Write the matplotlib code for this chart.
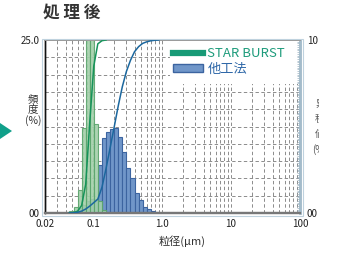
import numpy as np
import matplotlib
matplotlib.use("Agg")
import matplotlib.pyplot as plt
from matplotlib.lines import Line2D
from matplotlib.patches import Patch, Rectangle, Polygon
from matplotlib.ticker import FixedLocator, MultipleLocator, NullFormatter

plt.rcParams['font.family'] = ['Noto Sans CJK JP', 'DejaVu Sans']

# bin centres (um)
sizes = [0.0484, 0.0555, 0.0635, 0.0728, 0.0834, 0.0955, 0.109, 0.125,
         0.144, 0.164, 0.188, 0.216, 0.247, 0.283, 0.324, 0.372, 0.426,
         0.488, 0.558, 0.640, 0.733, 0.839]
# frequency (%) per bin
star_burst = [0.25, 0.8, 3.3, 12.3, 36.0, 32.35, 12.8, 1.8, 0.4,
              0, 0, 0, 0, 0, 0, 0, 0, 0, 0, 0, 0, 0]
other = [0.1, 0.3, 0.7, 1.2, 1.7, 2.0, 2.0, 6.9, 10.8, 11.7, 12.2, 12.3,
         11.0, 8.8, 6.5, 5.0, 2.9, 1.9, 0.9, 0.6, 0.3, 0.15]

xticks = [0.02, 0.1, 1.0, 10, 100]
xticklabels = ["0.02", "0.1", "1.0", "10", "100"]

W, H = 354, 257
fig = plt.figure(figsize=(W / 100, H / 100), dpi=100)
ax = fig.add_axes([45 / W, 1 - 213 / H, 255 / W, 173 / H])

c = np.log10(sizes)
mid = (c[1:] + c[:-1]) / 2
edges = 10 ** np.concatenate([[c[0] - (mid[0] - c[0])], mid, [c[-1] + (c[-1] - mid[-1])]])
lefts = edges[:-1]
widths = np.diff(edges)

ax.bar(lefts, other, width=widths, align='edge', color='#7096c9',
       edgecolor='#3c64a0', linewidth=0.8, zorder=2)
ax.bar(lefts, star_burst, width=widths, align='edge', color='#a3d0aa',
       edgecolor='#5aa56c', linewidth=0.8, alpha=0.9, zorder=3)

ax2 = ax.twinx()
def cum_line(vals, color):
    v = np.array(vals, dtype=float)
    nz = np.nonzero(v)[0]
    cs = np.concatenate([[0], np.cumsum(v)]) / v.sum() * 100
    lo, hi = nz[0], nz[-1] + 1
    ax2.plot(edges[lo:hi + 1], cs[lo:hi + 1], color=color, lw=1.1, zorder=4)

cum_line(star_burst, '#15935a')
cum_line(other, '#1b679e')

ax.set_xscale('log')
ax.set_xlim(0.02, 100)
ax.set_ylim(0, 25)
ax2.set_ylim(0, 100)

ax.xaxis.set_minor_locator(FixedLocator(
    [m * 10.0 ** e for e in range(-2, 2) for m in range(2, 10)]))
ax.xaxis.set_minor_formatter(NullFormatter())
ax.set_xticks(xticks)
ax.set_xticklabels(xticklabels)
ax.yaxis.set_minor_locator(MultipleLocator(2.5))
ax.set_yticks([0, 25])
ax.set_yticklabels(["00", "25.0"])
ax.tick_params(axis='both', which='both', length=0, labelsize=7, pad=4, colors='#222')
ax.grid(True, which='both', color='#8c8c8c', ls=(0, (3.5, 2.5)), lw=0.7)
ax.set_axisbelow(True)

ax2.set_yticks([0, 100])
ax2.set_yticklabels(["00", "10"])
ax2.yaxis.set_minor_locator(MultipleLocator(1))
ax2.tick_params(axis='y', which='major', length=0, labelsize=7, pad=5, colors='#222')
ax2.tick_params(axis='y', which='minor', direction='in', length=2, width=0.5, color='#9ab0c0')

for a in (ax, ax2):
    a.spines['left'].set_color('#111')
    a.spines['left'].set_linewidth(1.0)
    a.spines['bottom'].set_color('#777')
    a.spines['bottom'].set_linewidth(1.6)
    a.spines['top'].set_color('#999')
    a.spines['top'].set_linewidth(1.4)
    a.spines['right'].set_color('#a4bccb')
    a.spines['right'].set_linewidth(1.8)

# white box behind the legend hides the grid
ax.add_patch(Rectangle((0.49, 0.745), 0.51, 0.255, transform=ax.transAxes,
                       facecolor='white', edgecolor='none', zorder=1))

handles = [Line2D([], [], color='#179a76', lw=4.5),
           Patch(facecolor='#7096c9', edgecolor='#3c64a0', lw=1)]
leg = ax2.legend(handles, ['STAR BURST', '他工法'], loc='upper left',
                 bbox_to_anchor=(173 / W, 1 - 47 / H), bbox_transform=fig.transFigure,
                 frameon=False, fontsize=9.5, handlelength=2.3, handleheight=0.5,
                 handletextpad=0.3, labelspacing=0.2, borderpad=0, borderaxespad=0)
leg.get_texts()[0].set_color('#1f9c7c')
leg.get_texts()[1].set_color('#2f68a8')

# outer light frame
fig.patches.append(Rectangle((42 / W, 1 - 216 / H), 261 / W, 177 / H,
                             transform=fig.transFigure, fill=False,
                             edgecolor='#bfd2de', lw=0.8))

fig.text(43 / W, 1 - 13 / H, "処 理 後", fontsize=12, fontweight='bold',
         color='#333', va='center', ha='left')
fig.text(33 / W, 1 - 110 / H, "頻\n度\n(%)", fontsize=7.5, color='#333',
         ha='center', va='center', linespacing=1.05)
fig.text(182 / W, 1 - 241 / H, "粒径(μm)", fontsize=8, color='#333',
         ha='center', va='center')
rt = fig.text(320 / W, 1 - 127 / H, "累\n積\n値\n(%)", fontsize=7, color='#555',
              ha='center', va='center', linespacing=1.6)
rt.set_clip_box(matplotlib.transforms.Bbox.from_extents(0, 0, 319, H))
rt.set_clip_on(True)

fig.patches.append(Polygon([(0, 1 - 123 / H), (12 / W, 1 - 131 / H), (0, 1 - 139 / H)],
                           closed=True, transform=fig.transFigure,
                           facecolor='#10a08a', edgecolor='none'))

fig.savefig("out.png", dpi=100)
